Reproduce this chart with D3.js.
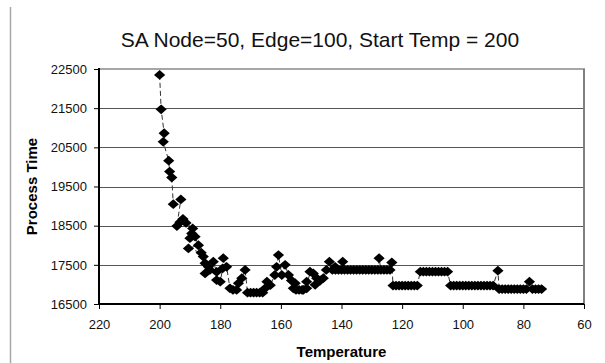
<!DOCTYPE html>
<html>
<head>
<meta charset="utf-8">
<script src="https://cdn.jsdelivr.net/npm/d3@7"></script>
<style>
  body { margin: 0; background: #fff; }
  text { font-family: "Liberation Sans", Arial, sans-serif; }
</style>
</head>
<body>
<div id="container"></div>
<script>
    // Temperature of each step
    const temps = [
        200, 199.5, 198.5, 198.8, 197, 196.7, 196, 195.5, 193, 194.3,
        193.3, 192.3, 191.3, 189.1, 189.4, 190, 188.3, 187.2, 190.5, 186.3,
        185.6, 185, 183.9, 185, 183.4, 182.3, 181.2, 181.2, 180, 179.2,
        179, 177.9, 176.8, 175.8, 174.6, 174, 172.9, 171.8, 171, 170,
        169, 168, 167, 166, 165.2, 164.6, 163.5, 162, 161.4, 160.8,
        159.7, 158.6, 157.5, 156.5, 155.9, 155.3, 155, 154, 153, 152.6,
        151.5, 151.5, 150.4, 149.3, 148.7, 148.2, 147, 146, 145, 144,
        143, 142.1, 142, 141, 140, 139.6, 139, 138, 137, 136,
        135, 134, 133, 132, 131, 130, 129, 128, 127.6, 127,
        126, 125, 124, 123.4, 123, 122, 121, 120, 119, 118,
        117, 116, 115, 114, 113, 112, 111, 110, 109, 108,
        107, 106, 105, 104, 103, 102, 101, 100, 99, 98,
        97, 96, 95, 94, 93, 92, 91, 90, 88.4, 88,
        87, 86, 85, 84, 83, 82, 81, 80, 79, 78,
        77, 76, 75, 74
    ];

    // Process time at each step
    const times = [
        22350, 21470, 20860, 20640, 20160, 19880, 19730, 19050, 19170, 18490,
        18590, 18670, 18570, 18430, 18300, 18180, 18220, 18000, 17920, 17810,
        17710, 17540, 17450, 17280, 17370, 17580, 17320, 17110, 17070, 17410,
        17670, 17450, 16900, 16860, 16860, 17030, 17160, 17370, 16790, 16790,
        16790, 16790, 16790, 16790, 16900, 17070, 16980, 17240, 17450, 17750,
        17240, 17500, 17240, 17100, 16900, 17030, 16860, 16860, 16860, 16860,
        17070, 16900, 17325, 17280, 16990, 17160, 17100, 17160, 17370, 17580,
        17370, 17450, 17370, 17370, 17370, 17580, 17370, 17370, 17370, 17370,
        17370, 17370, 17370, 17370, 17370, 17370, 17370, 17370, 17670, 17370,
        17370, 17370, 17370, 17560, 16970, 16970, 16970, 16970, 16970, 16970,
        16970, 16970, 16970, 17325, 17325, 17325, 17325, 17325, 17325, 17325,
        17325, 17325, 17325, 16970, 16970, 16970, 16970, 16970, 16970, 16970,
        16970, 16970, 16970, 16970, 16970, 16970, 16970, 16970, 17350, 16880,
        16880, 16880, 16880, 16880, 16880, 16880, 16880, 16880, 16880, 17070,
        16880, 16880, 16880, 16880
    ];

    // Tick labels
    const xTicks = [220, 200, 180, 160, 140, 120, 100, 80, 60];
    const yTicks = [16500, 17500, 18500, 19500, 20500, 21500, 22500];

    const width = 605, height = 363;
    const plotLeft = 99, plotRight = 584, plotTop = 69, plotBottom = 304;

    const svg = d3.select("#container")
                    .append("svg")
                    .attr("width", width)
                    .attr("height", height);

    // Scales (x runs from high to low temperature)
    const x = d3.scaleLinear().domain([220, 60]).range([plotLeft, plotRight]);
    const y = d3.scaleLinear().domain([16500, 22500]).range([plotBottom, plotTop]);

    // Outer chart border (only the left edge shows)
    svg.append("line")
        .attr("x1", 10.5).attr("x2", 10.5)
        .attr("y1", 7).attr("y2", height)
        .attr("stroke", "#a8a8a8")
        .attr("stroke-width", 1.5);

    // Title
    svg.append("text")
        .attr("x", 320)
        .attr("y", 47)
        .attr("text-anchor", "middle")
        .attr("font-size", "21px")
        .attr("fill", "#111")
        .text("SA Node=50, Edge=100, Start Temp = 200");

    // Gridlines
    svg.append("g")
        .selectAll("line")
        .data(yTicks.slice(1, -1))
        .enter()
        .append("line")
        .attr("x1", plotLeft).attr("x2", plotRight)
        .attr("y1", d => Math.round(y(d)) + 0.5)
        .attr("y2", d => Math.round(y(d)) + 0.5)
        .attr("stroke", "#555")
        .attr("stroke-width", 1);

    // Top and right plot border
    svg.append("line")
        .attr("x1", plotLeft).attr("x2", plotRight + 1)
        .attr("y1", plotTop).attr("y2", plotTop)
        .attr("stroke", "#a6a6a6")
        .attr("stroke-width", 2);
    svg.append("line")
        .attr("x1", plotRight).attr("x2", plotRight)
        .attr("y1", plotTop).attr("y2", plotBottom)
        .attr("stroke", "#808080")
        .attr("stroke-width", 2);

    // Y axis
    const yAxis = svg.append("g")
        .attr("transform", "translate(" + plotLeft + ",0)")
        .call(d3.axisLeft(y)
                .tickValues(yTicks)
                .tickSize(5)
                .tickPadding(7)
                .tickFormat(d3.format("d")));
    yAxis.select(".domain").remove();

    // X axis
    const xAxis = svg.append("g")
        .attr("transform", "translate(0," + plotBottom + ")")
        .call(d3.axisBottom(x)
                .tickValues(xTicks)
                .tickSize(5)
                .tickPadding(11)
                .tickFormat(d3.format("d")));
    xAxis.select(".domain").remove();

    svg.selectAll(".tick text")
        .attr("font-size", "13px")
        .attr("font-family", "Liberation Sans, Arial, sans-serif")
        .attr("fill", "#111");
    svg.selectAll(".tick line")
        .attr("stroke", "#000");

    // Axis lines
    svg.append("line")
        .attr("x1", plotLeft).attr("x2", plotLeft)
        .attr("y1", plotTop - 1).attr("y2", plotBottom + 1)
        .attr("stroke", "#000")
        .attr("stroke-width", 2);
    svg.append("line")
        .attr("x1", plotLeft - 1).attr("x2", plotRight)
        .attr("y1", plotBottom).attr("y2", plotBottom)
        .attr("stroke", "#000")
        .attr("stroke-width", 2);

    // Axis titles
    svg.append("text")
        .attr("x", (plotLeft + plotRight) / 2)
        .attr("y", 357)
        .attr("text-anchor", "middle")
        .attr("font-size", "15px")
        .attr("font-weight", "bold")
        .text("Temperature");

    svg.append("text")
        .attr("transform", "translate(37," + ((plotTop + plotBottom) / 2) + ") rotate(-90)")
        .attr("text-anchor", "middle")
        .attr("font-size", "15px")
        .attr("font-weight", "bold")
        .text("Process Time");

    // Dashed connecting line
    const line = d3.line()
        .x(i => x(temps[i]))
        .y(i => y(times[i]));

    svg.append("path")
        .datum(d3.range(temps.length))
        .attr("d", line)
        .attr("fill", "none")
        .attr("stroke", "#333")
        .attr("stroke-width", 1)
        .attr("stroke-dasharray", "5,3");

    // Diamond markers
    svg.append("g")
        .selectAll("path")
        .data(d3.range(temps.length))
        .enter()
        .append("path")
        .attr("transform", i => "translate(" + x(temps[i]) + "," + y(times[i]) + ")")
        .attr("d", "M0,-4.9L5.6,0L0,4.9L-5.6,0Z")
        .attr("fill", "#000");
</script>
</body>
</html>
